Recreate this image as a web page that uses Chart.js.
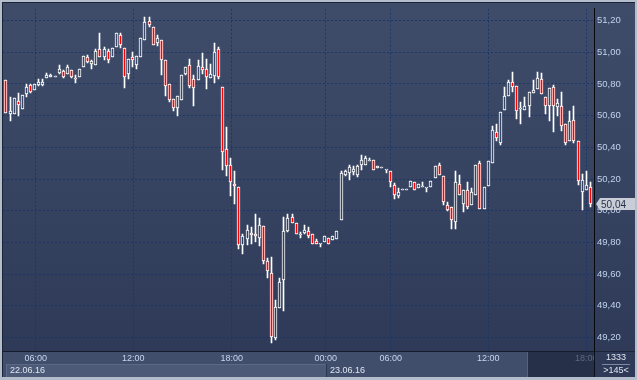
<!DOCTYPE html>
<html><head><meta charset="utf-8">
<script src="https://cdn.jsdelivr.net/npm/chart.js@4.4.0/dist/chart.umd.min.js"></script>
<style>html,body{margin:0;padding:0;background:#b3bdcc;overflow:hidden}canvas{display:block}</style>
</head><body>
<canvas id="c" width="637" height="380"></canvas>
<script>
const opens = [50.822,50.611,50.611,50.691,50.642,50.735,50.791,50.760,50.791,50.791,50.840,50.846,50.846,50.871,50.884,50.865,50.890,50.840,50.846,50.908,50.970,50.927,50.921,51.020,50.970,51.008,50.970,51.033,51.107,51.026,50.865,50.970,50.921,50.970,51.076,51.200,51.157,51.057,51.076,50.952,50.797,50.704,50.648,50.698,50.865,50.921,50.828,50.822,50.908,50.896,50.840,50.853,51.020,50.778,50.387,50.288,50.170,50.152,49.786,49.823,49.861,49.855,49.830,49.904,49.680,49.606,49.196,49.389,49.562,49.873,49.959,49.922,49.848,49.861,49.873,49.855,49.811,49.792,49.804,49.830,49.817,49.823,49.941,50.226,50.239,50.245,50.226,50.288,50.288,50.313,50.319,50.270,50.270,50.257,50.251,50.164,50.096,50.133,50.133,50.152,50.183,50.146,50.152,50.146,50.152,50.208,50.288,50.220,50.034,50.021,49.928,50.170,50.040,50.133,50.034,50.102,50.301,50.009,50.158,50.301,50.499,50.425,50.636,50.722,50.809,50.784,50.642,50.636,50.660,50.741,50.766,50.828,50.716,50.660,50.778,50.654,50.660,50.549,50.437,50.573,50.437,50.121,50.133,50.152];
const highs = [50.822,50.716,50.710,50.741,50.729,50.797,50.797,50.797,50.828,50.834,50.871,50.865,50.846,50.921,50.890,50.921,50.890,50.859,50.896,50.977,50.983,50.952,51.020,51.119,51.033,51.020,51.026,51.119,51.119,51.026,50.958,51.001,50.977,51.088,51.219,51.219,51.157,51.107,51.076,50.952,50.797,50.704,50.722,50.859,50.908,50.958,50.859,50.952,50.995,50.958,50.927,51.057,51.033,50.778,50.530,50.332,50.251,50.152,49.855,49.910,49.897,49.978,49.953,49.904,49.699,49.711,49.438,49.575,49.959,49.978,49.978,49.922,49.867,49.910,49.897,49.855,49.823,49.792,49.842,49.830,49.842,49.873,50.251,50.257,50.288,50.282,50.288,50.350,50.344,50.332,50.319,50.282,50.270,50.257,50.251,50.177,50.146,50.133,50.133,50.189,50.183,50.170,50.183,50.146,50.189,50.282,50.301,50.220,50.052,50.021,50.251,50.226,50.133,50.183,50.146,50.288,50.313,50.152,50.313,50.536,50.549,50.623,50.778,50.822,50.877,50.784,50.685,50.716,50.747,50.822,50.877,50.871,50.716,50.772,50.791,50.704,50.747,50.549,50.629,50.660,50.437,50.232,50.251,50.183];
const lows = [50.617,50.567,50.611,50.598,50.642,50.716,50.741,50.760,50.784,50.784,50.840,50.846,50.846,50.865,50.840,50.865,50.840,50.803,50.846,50.908,50.933,50.896,50.921,50.970,50.952,50.933,50.970,51.033,51.026,50.772,50.834,50.908,50.896,50.970,51.076,51.157,51.045,51.039,50.859,50.722,50.685,50.629,50.598,50.698,50.859,50.772,50.660,50.822,50.865,50.766,50.840,50.803,50.834,50.257,50.220,50.096,50.040,49.761,49.724,49.786,49.792,49.804,49.780,49.662,49.575,49.165,49.184,49.389,49.370,49.867,49.922,49.855,49.830,49.855,49.830,49.792,49.792,49.773,49.804,49.792,49.817,49.823,49.941,50.220,50.195,50.226,50.214,50.257,50.288,50.313,50.257,50.270,50.270,50.239,50.152,50.071,50.083,50.133,50.133,50.152,50.133,50.146,50.152,50.121,50.152,50.208,50.226,50.034,49.997,49.885,49.885,50.102,49.990,50.009,50.034,50.102,50.009,50.009,50.158,50.301,50.443,50.412,50.636,50.722,50.747,50.580,50.549,50.636,50.592,50.741,50.766,50.735,50.611,50.567,50.499,50.598,50.505,50.412,50.437,50.425,50.164,50.003,50.133,50.021];
const closes = [50.617,50.629,50.710,50.667,50.729,50.778,50.747,50.797,50.809,50.815,50.859,50.859,50.846,50.896,50.846,50.908,50.846,50.828,50.896,50.977,50.939,50.946,51.008,50.970,51.020,50.952,51.026,51.119,51.045,50.846,50.958,50.952,50.977,51.088,51.188,51.169,51.045,51.088,50.952,50.784,50.698,50.648,50.722,50.859,50.908,50.784,50.772,50.914,50.890,50.846,50.865,51.001,50.846,50.369,50.282,50.183,50.158,49.786,49.842,49.879,49.848,49.842,49.910,49.680,49.618,49.203,49.395,49.550,49.873,49.953,49.922,49.855,49.848,49.879,49.842,49.792,49.792,49.792,49.842,49.792,49.842,49.873,50.239,50.251,50.276,50.263,50.282,50.319,50.332,50.319,50.257,50.282,50.270,50.257,50.183,50.102,50.121,50.133,50.133,50.189,50.133,50.170,50.152,50.146,50.189,50.282,50.226,50.052,50.003,49.941,50.183,50.102,50.133,50.021,50.121,50.288,50.009,50.152,50.313,50.511,50.456,50.623,50.722,50.815,50.778,50.629,50.642,50.660,50.747,50.760,50.840,50.735,50.660,50.772,50.660,50.679,50.536,50.425,50.567,50.443,50.189,50.195,50.164,50.040];

const timeTickPos = [7.27, 31.15, 55.24, 78.24, 94.15, 118.04, 142.02];
const timeTickLabels = ['06:00','12:00','18:00','00:00','06:00','12:00','18:00'];
const priceTicks = [49.2, 49.4, 49.6, 49.8, 50.0, 50.2, 50.4, 50.6, 50.8, 51.0, 51.2];
const dateLabels = ['22.06.16', '23.06.16'];
const dateStarts = [-0.73, 78.24];
const lastPrice = 50.04;
const totalBars = '1333';
const visibleBars = '>145<';

const FONT = '"Liberation Sans", Arial, sans-serif';
const topCol = [62, 76, 106], botCol = [46, 58, 88];
function bgAt(y) {
  const t = Math.max(0, Math.min(1, (y - 3) / 348));
  const c = topCol.map((a, k) => Math.round(a + (botCol[k] - a) * t));
  return 'rgb(' + c.join(',') + ')';
}

const fmt = v => v.toFixed(2).replace('.', ',');

// snap candle elements to whole pixels so the thin lines stay crisp
const snap = {
  id: 'snap',
  beforeDatasetsDraw(chart) {
    chart.data.datasets.forEach((ds, di) => {
      const meta = chart.getDatasetMeta(di);
      meta.data.forEach(el => {
        el.x = Math.floor(el.x) + 0.5;
        const top = Math.round(Math.min(el.y, el.base));
        let bot = Math.round(Math.max(el.y, el.base));
        if (bot - top < 1) bot = top + 1;
        el.y = top; el.base = bot;
      });
    });
  }
};

const decor = {
  id: 'decor',
  beforeDraw(chart) {
    const ctx = chart.ctx;
    const a = chart.chartArea;
    ctx.save();
    ctx.fillStyle = '#b3bdcc';
    ctx.fillRect(0, 0, 637, 380);
    ctx.fillStyle = '#1b2336';
    ctx.fillRect(2, 2, 633, 375);
    const g = ctx.createLinearGradient(0, a.top, 0, a.bottom);
    g.addColorStop(0, 'rgb(' + topCol.join(',') + ')');
    g.addColorStop(1, 'rgb(' + botCol.join(',') + ')');
    ctx.fillStyle = g;
    ctx.fillRect(3, 3, 632, a.bottom - 3);
    ctx.fillStyle = '#404d6b';
    ctx.fillRect(3, a.bottom + 1, a.right - 3, 25);
    const xs = chart.scales.x;
    const x0 = 6, x1 = Math.round(xs.getPixelForValue(dateStarts[1]));
    ctx.fillStyle = '#4c5977';
    ctx.fillRect(x0, 365, x1 - x0, 12);
    ctx.fillStyle = '#5b6886';
    ctx.fillRect(x0, 364, x1 - x0, 1);
    ctx.fillRect(x0, 364, 1, 13);
    ctx.fillStyle = '#2b3650';
    ctx.fillRect(x1, 364, 1, 13);
    ctx.fillStyle = '#263149';
    ctx.fillRect(528, a.bottom + 1, a.right - 528, 25);
    ctx.fillStyle = '#56637f';
    ctx.fillRect(527, a.bottom + 1, 1, 25);
    ctx.fillStyle = '#dfe6f2';
    ctx.font = '9px ' + FONT;
    ctx.textBaseline = 'middle';
    ctx.textAlign = 'left';
    ctx.fillText(dateLabels[0], 10, 371);
    ctx.fillText(dateLabels[1], x1 + 4, 371);
    ctx.restore();
  },
  afterDraw(chart) {
    const ctx = chart.ctx;
    const a = chart.chartArea;
    const ys = chart.scales.y;
    ctx.save();
    ctx.fillStyle = '#2e3a57';
    ctx.fillRect(a.right + 1, a.bottom + 1, 635 - a.right - 1, 25);
    ctx.fillStyle = '#0b0f18';
    ctx.fillRect(a.right, a.bottom, 1, 26);
    ctx.fillStyle = '#dfe6f2';
    ctx.font = '9px ' + FONT;
    ctx.textAlign = 'center';
    ctx.textBaseline = 'middle';
    ctx.fillText(totalBars, 616, 358);
    ctx.fillStyle = '#7c89a5';
    ctx.fillRect(602, 364, 28, 1);
    ctx.fillStyle = '#dfe6f2';
    ctx.fillText(visibleBars, 616, 371);
    const py = Math.round(ys.getPixelForValue(lastPrice));
    ctx.fillStyle = '#c8cdd7';
    ctx.beginPath();
    ctx.moveTo(596, py);
    ctx.lineTo(600, py - 6);
    ctx.lineTo(635, py - 6);
    ctx.lineTo(635, py + 6);
    ctx.lineTo(600, py + 6);
    ctx.closePath();
    ctx.fill();
    ctx.fillStyle = '#27324a';
    ctx.textAlign = 'left';
    ctx.font = '10px ' + FONT;
    ctx.fillText(fmt(lastPrice), 601, py + 1);
    ctx.restore();
  }
};

const bodies = opens.map((o, i) => ({ x: i, y: [o, closes[i]] }));
const wicks = lows.map((l, i) => ({ x: i, y: [l, highs[i]] }));

new Chart(document.getElementById('c'), {
  type: 'bar',
  data: {
    datasets: [
      {
        label: 'body', data: bodies, order: 0, grouped: false,
        barThickness: 3, borderWidth: 1, borderColor: '#ffffff', borderSkipped: false, minBarLength: 1,
        backgroundColor: (c) => {
          const i = c.dataIndex;
          if (closes[i] < opens[i]) return '#ff0000';
          const ys = c.chart.scales.y;
          if (!ys) return bgAt(180);
          return bgAt(ys.getPixelForValue((opens[i] + closes[i]) / 2));
        }
      },
      {
        label: 'wick', data: wicks, order: 1, grouped: false,
        barThickness: 1, borderWidth: 0, backgroundColor: '#ffffff', minBarLength: 1
      }
    ]
  },
  options: {
    animation: false, responsive: false, events: [],
    layout: { padding: { left: 3, top: 3, right: 0, bottom: 0 } },
    plugins: { legend: { display: false }, tooltip: { enabled: false } },
    scales: {
      x: {
        type: 'linear', min: -0.73, max: 143.9, offset: false,
        afterBuildTicks: (s) => { s.ticks = timeTickPos.map(v => ({ value: v })); },
        afterFit: (s) => { s.height = 29; },
        ticks: {
          autoSkip: false, maxRotation: 0, padding: 2,
          callback: (v, i) => timeTickLabels[i],
          font: { family: FONT, size: 9 },
          color: (c) => c.index === timeTickLabels.length - 1 ? '#5d6985' : '#c6d6ef'
        },
        grid: { color: '#1c3767', drawTicks: false, lineWidth: 1, offset: false },
        border: { color: '#141b2b', width: 1, dash: [2, 2] }
      },
      y: {
        position: 'right', min: 49.115, max: 51.2745,
        afterBuildTicks: (s) => { s.ticks = priceTicks.map(v => ({ value: v })); },
        afterFit: (s) => { s.width = 43; },
        ticks: {
          padding: 3,
          callback: (v) => fmt(v),
          font: { family: FONT, size: 9.5 },
          color: '#c2d3ee'
        },
        grid: { color: '#1c3767', drawTicks: false, lineWidth: 1 },
        border: { color: '#05070c', width: 1, dash: [2, 2] }
      }
    }
  },
  plugins: [snap, decor]
});
</script>
</body></html>
